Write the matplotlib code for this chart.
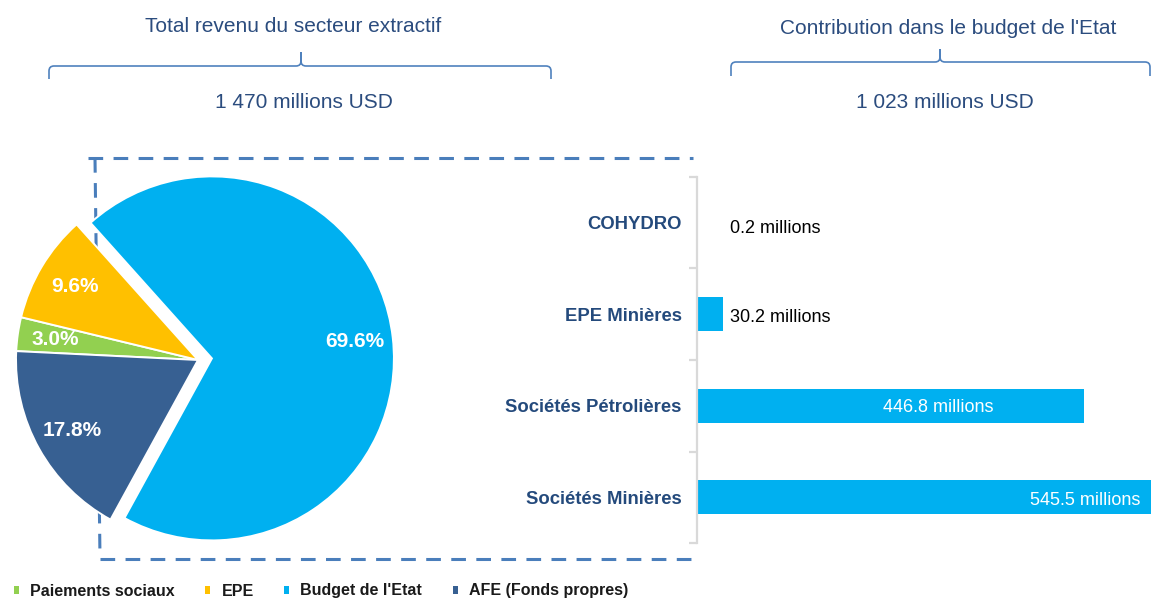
import matplotlib
matplotlib.use("Agg")
import matplotlib.pyplot as plt
from matplotlib.path import Path
from matplotlib.patches import PathPatch, Rectangle
from matplotlib.lines import Line2D
import matplotlib.transforms as mtransforms

plt.rcParams['font.family'] = ['Liberation Sans', 'DejaVu Sans']

# ---------------- data ----------------
pie_labels = ["Paiements sociaux", "EPE", "Budget de l'Etat", "AFE (Fonds propres)"]
pie_shares = [3.0, 9.6, 69.6, 17.8]
pie_colors = ["#92D050", "#FFC000", "#00B0F0", "#376092"]

bar_categories = ["COHYDRO", "EPE Minières", "Sociétés Pétrolières", "Sociétés Minières"]
bar_values = [0.2, 30.2, 446.8, 545.5]
bar_texts = ["0.2 millions", "30.2 millions", "446.8 millions", "545.5 millions"]

left_title = "Total revenu du secteur extractif"
left_total = "1 470 millions USD"
right_title = "Contribution dans le budget de l'Etat"
right_total = "1 023 millions USD"

# ---------------- layout helpers ----------------
W, H = 1151, 598
fig = plt.figure(figsize=(W / 100, H / 100), dpi=100)
fig.patch.set_facecolor('white')


def box(x0, y0, x1, y1):
    """pixel box (origin top-left) -> figure fraction rect"""
    return [x0 / W, (H - y1) / H, (x1 - x0) / W, (y1 - y0) / H]


HEAD_COLOR = '#2B4C7E'
BRACE_COLOR = '#4F81BD'
DASH_COLOR = '#4A7EBB'
CAT_COLOR = '#244A7C'

# overlay axes in pixel coordinates (behind the pie)
ov = fig.add_axes([0, 0, 1, 1], zorder=-1)
ov.set_xlim(0, W)
ov.set_ylim(H, 0)
ov.axis('off')
ov.patch.set_visible(False)

# headers
ov.text(293, 26, left_title, ha='center', va='center', fontsize=15, color=HEAD_COLOR)
ov.text(304, 103, left_total, ha='center', va='center', fontsize=15, color=HEAD_COLOR)
ov.text(948, 29, right_title, ha='center', va='center', fontsize=15, color=HEAD_COLOR)
ov.text(945, 103, right_total, ha='center', va='center', fontsize=15, color=HEAD_COLOR)


def brace(x0, x1, xm, yh, yend, ytip, r=5):
    verts = [(x0, yend), (x0, yh + r), (x0, yh), (x0 + r, yh),
             (xm - r, yh), (xm, yh), (xm, yh - r), (xm, ytip),
             (xm, yh - r), (xm, yh), (xm + r, yh),
             (x1 - r, yh), (x1, yh), (x1, yh + r), (x1, yend)]
    codes = [Path.MOVETO, Path.LINETO, Path.CURVE3, Path.CURVE3,
             Path.LINETO, Path.CURVE3, Path.CURVE3, Path.LINETO,
             Path.LINETO, Path.CURVE3, Path.CURVE3,
             Path.LINETO, Path.CURVE3, Path.CURVE3, Path.LINETO]
    ov.add_patch(PathPatch(Path(verts, codes), fill=False, edgecolor=BRACE_COLOR, lw=1.2))


brace(49, 551, 301, 66, 79, 52)
brace(731, 1150, 940, 62, 76, 49)

# dashed frame
dkw = dict(color=DASH_COLOR, lw=2.2, linestyle=(0, (4.8, 3.4)), dash_capstyle='butt')
ov.add_line(Line2D([88, 693], [158, 158], **dkw))
ov.add_line(Line2D([95, 100], [158, 558], **dkw))
ov.add_line(Line2D([100, 693], [559, 559], **dkw))

# ---------------- pie ----------------
cx, cy, R, half = 198, 360, 182, 215
axp = fig.add_axes(box(cx - half, cy - half, cx + half, cy + half))
wedges, texts, autotexts = axp.pie(
    pie_shares, colors=pie_colors, startangle=177.2, counterclock=False,
    explode=[0, 0, 0.077, 0], autopct='%1.1f%%', pctdistance=0.79,
    wedgeprops=dict(edgecolor='white', linewidth=1.4),
    textprops=dict(color='white', fontsize=15, fontweight='bold'))
lim = half / R
axp.set_xlim(-lim, lim)
axp.set_ylim(-lim, lim)
axp.set_aspect('equal')
axp.axis('off')

# ---------------- bars ----------------
axb = fig.add_axes(box(697, 177, 1151, 543))
ypos = list(range(len(bar_categories)))
axb.barh(ypos, bar_values, height=0.37, color='#00B0F0')
axb.set_ylim(3.5, -0.5)
axb.set_xlim(0, 524)
for s in ['top', 'right', 'bottom']:
    axb.spines[s].set_visible(False)
axb.spines['left'].set_color('#D9D9D9')
axb.spines['left'].set_linewidth(1.6)
axb.set_xticks([])
axb.set_yticks(ypos, bar_categories)
axb.set_yticks([-0.5, 0.5, 1.5, 2.5, 3.5], minor=True)
axb.tick_params(axis='y', which='major', length=0, pad=11, labelsize=13.3, labelcolor=CAT_COLOR)
axb.tick_params(axis='y', which='minor', length=5.5, width=1.6, color='#D9D9D9')
for t in axb.get_yticklabels():
    t.set_fontweight('bold')
axb.patch.set_visible(False)

blend = mtransforms.blended_transform_factory(axb.transAxes, axb.transData)
for i, (v, lbl) in enumerate(zip(bar_values, bar_texts)):
    if v < 100:
        dy = -6 if v < 1 else -3
        axb.annotate(lbl, xy=(0, i), xytext=(33, dy), textcoords='offset pixels',
                     ha='left', va='center', fontsize=13, color='black')
    elif v == max(bar_values):
        axb.annotate(lbl, xy=(1, i), xycoords=blend, xytext=(-11, -3),
                     textcoords='offset pixels', ha='right', va='center',
                     fontsize=13, color='white')
    else:
        axb.annotate(lbl, xy=(v * 0.623, i), xytext=(0, -2), textcoords='offset pixels',
                     ha='center', va='center', fontsize=13, color='white')

# ---------------- legend ----------------
handles = [Rectangle((0, 0), 1, 1, facecolor=c, edgecolor='none') for c in pie_colors]
leg = fig.legend(handles, pie_labels, loc='center left',
                 bbox_to_anchor=(14 / W, (H - 591) / H), ncol=4, frameon=False,
                 borderpad=0, borderaxespad=0, handlelength=0.32, handleheight=0.45,
                 handletextpad=0.7, columnspacing=1.9,
                 prop=dict(size=11.5, weight='bold'))
for t in leg.get_texts():
    t.set_color('#1A1A1A')

fig.savefig('out.png', dpi=100, facecolor='white')
